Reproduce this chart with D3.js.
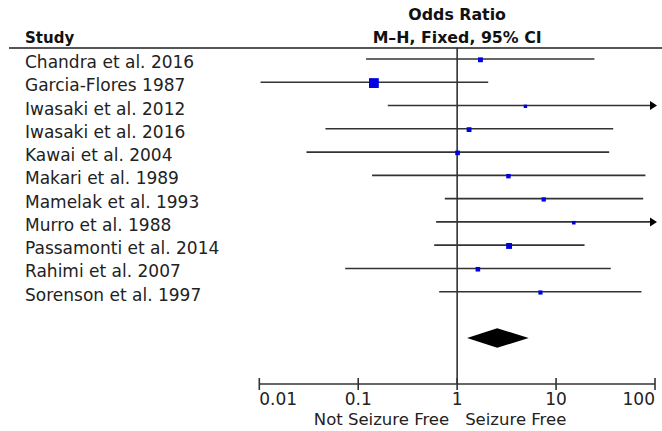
<!DOCTYPE html>
<html><head><meta charset="utf-8">
<script src="https://cdn.jsdelivr.net/npm/d3@7"></script>
<style>html,body{margin:0;padding:0;background:#fff;}svg{display:block;}</style>
</head><body>
<svg id="chart" width="662" height="431"></svg>
<script>
const studies = ["Chandra et al. 2016","Garcia-Flores 1987","Iwasaki et al. 2012","Iwasaki et al. 2016","Kawai et al. 2004","Makari et al. 1989","Mamelak et al. 1993","Murro et al. 1988","Passamonti et al. 2014","Rahimi et al. 2007","Sorenson et al. 1997"];
const oddsRatio = [1.72, 0.144, 4.9, 1.32, 1.01, 3.3, 7.5, 15.1, 3.35, 1.62, 6.95];
const ciLower  = [0.12, 0.0103, 0.199, 0.0466, 0.030, 0.138, 0.75, 0.613, 0.586, 0.0738, 0.658];
const ciUpper  = [24.4, 2.06, 400, 37.8, 34.4, 80, 76, 300, 19.4, 35.7, 73];
const weights  = [9.5, 38.5, 4.6, 9.2, 8.6, 7.9, 7.3, 5.1, 13.9, 8.4, 7.0];
const pooled = {or: 2.54, lo: 1.26, hi: 5.29};
const tickValues = [0.01, 0.1, 1, 10, 100];
const tickLabels = ["0.01", "0.1", "1", "10", "100"];
const headerLines = ["Odds Ratio", "M\u2013H, Fixed, 95% CI"];
const favourLeft = "Not Seizure Free";
const favourRight = "Seizure Free";

const svg = d3.select("#chart");
const font = "'DejaVu Sans', Verdana, sans-serif";
const x = d3.scaleLog().domain([0.01, 100]).range([259.3, 655]);
const y = d3.scalePoint().domain(studies).range([59, 291.7]);
const size = d3.scaleSqrt().domain([0, 40]).range([0, 10]);
const lineCol = "#333";
const fs = 17;

// header
svg.append("text").attr("x", 25).attr("y", 43).attr("font-family", font)
  .attr("font-size", 15).attr("font-weight", "bold").attr("fill", "#111").text("Study");
headerLines.forEach((t, i) => {
  svg.append("text").attr("x", x(1)).attr("y", 20 + i * 23.3).attr("text-anchor", "middle")
    .attr("font-family", font).attr("font-size", 15.8).attr("font-weight", "bold").attr("fill", "#111").text(t);
});
svg.append("line").attr("x1", 9).attr("x2", 662).attr("y1", 48).attr("y2", 48)
  .attr("stroke", "#555").attr("stroke-width", 2);

// study labels
svg.append("g").selectAll("text").data(studies).join("text")
  .attr("x", 25).attr("y", d => y(d) + 9).attr("font-family", font).attr("font-size", fs)
  .attr("fill", "#222").text(d => d);

// null line
svg.append("line").attr("x1", x(1)).attr("x2", x(1)).attr("y1", 48).attr("y2", 384)
  .attr("stroke", lineCol).attr("stroke-width", 1.6);

// CI lines
const rows = studies.map((s, i) => ({s, or: oddsRatio[i], lo: ciLower[i], hi: ciUpper[i], w: weights[i]}));
const xmax = x.domain()[1];
const g = svg.append("g");
g.selectAll("line.ci").data(rows).join("line").attr("class", "ci")
  .attr("x1", d => x(Math.max(d.lo, 0.01))).attr("x2", d => d.hi > xmax ? x(xmax) - 4 : x(d.hi))
  .attr("y1", d => y(d.s)).attr("y2", d => y(d.s))
  .attr("stroke", lineCol).attr("stroke-width", 1.6);
g.selectAll("path.arrow").data(rows.filter(d => d.hi > xmax)).join("path").attr("class", "arrow")
  .attr("d", d => { const xe = x(xmax) + 2, yy = y(d.s); return `M${xe},${yy} L${xe-7},${yy-4.5} L${xe-7},${yy+4.5} Z`; })
  .attr("fill", "#000");
g.selectAll("rect.pt").data(rows).join("rect").attr("class", "pt")
  .attr("x", d => x(d.or) - size(d.w) / 2).attr("y", d => y(d.s) + 0.8 - size(d.w) / 2)
  .attr("width", d => size(d.w)).attr("height", d => size(d.w))
  .attr("fill", "#0000e0");

// pooled diamond
const dy = 338, dh = 9.7;
svg.append("path")
  .attr("d", `M${x(pooled.lo)},${dy} L${x(pooled.or)},${dy-dh} L${x(pooled.hi)},${dy} L${x(pooled.or)},${dy+dh} Z`)
  .attr("fill", "#000");

// axis
const axisY = 384;
svg.append("line").attr("x1", x(0.01)).attr("x2", x(100)).attr("y1", axisY).attr("y2", axisY)
  .attr("stroke", lineCol).attr("stroke-width", 1.6);
svg.append("g").selectAll("line").data(tickValues).join("line")
  .attr("x1", d => x(d)).attr("x2", d => x(d)).attr("y1", axisY - 6).attr("y2", axisY + 6)
  .attr("stroke", lineCol).attr("stroke-width", 1.6);
svg.append("g").selectAll("text").data(tickValues).join("text")
  .attr("x", d => x(d)).attr("y", 405)
  .attr("text-anchor", (d, i) => i === 0 ? "start" : (i === tickValues.length - 1 ? "end" : "middle"))
  .attr("font-family", font).attr("font-size", fs).attr("fill", "#222")
  .text((d, i) => tickLabels[i]);
svg.append("text").attr("x", x(1) - 8).attr("y", 425).attr("text-anchor", "end")
  .attr("font-family", font).attr("font-size", 16.5).attr("fill", "#222").text(favourLeft);
svg.append("text").attr("x", x(1) + 8).attr("y", 425).attr("text-anchor", "start")
  .attr("font-family", font).attr("font-size", 16.5).attr("fill", "#222").text(favourRight);
</script>
</body></html>
